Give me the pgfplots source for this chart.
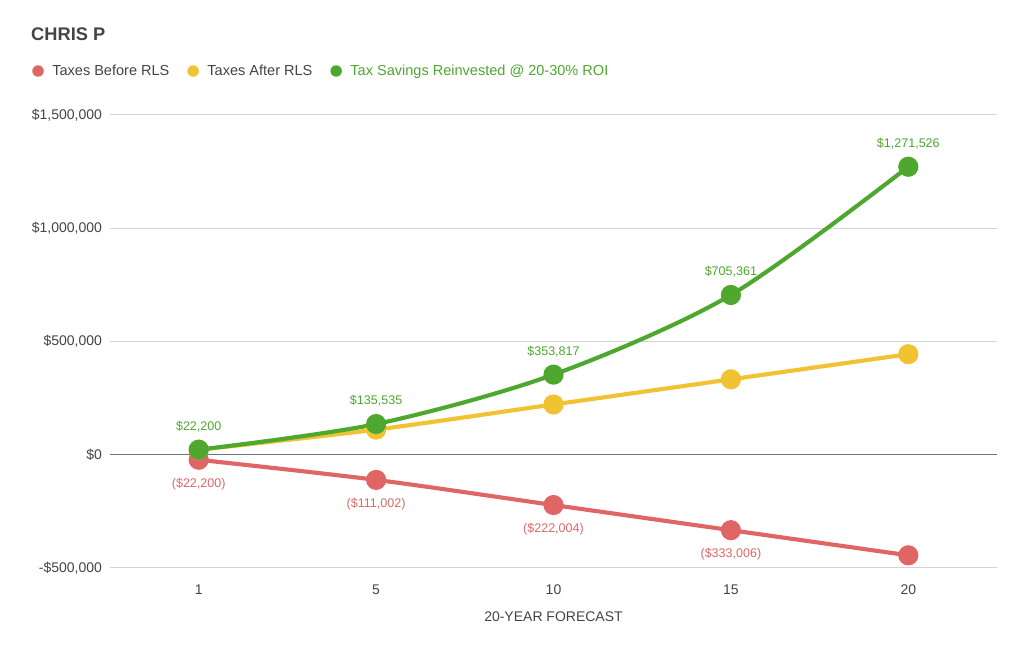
\documentclass[border=0pt]{standalone}
\usepackage{pgfplots}
\pgfplotsset{compat=1.18}
\usepackage{fontspec}
\setmainfont{Liberation Sans}
\definecolor{cred}{HTML}{E06666}
\definecolor{cyel}{HTML}{F1C232}
\definecolor{cgrn}{HTML}{4EA72E}
\definecolor{ctxt}{HTML}{444444}
\begin{document}
\begin{tikzpicture}
\path[use as bounding box] (0pt,0pt) rectangle (768pt,492pt);
\begin{axis}[
  at={(82.5pt,66pt)}, anchor=south west,
  scale only axis, width=665.25pt, height=339.75pt,
  xmin=-0.5, xmax=4.5, ymin=-500000, ymax=1500000,
  xtick={0,1,2,3,4}, xticklabels={1,5,10,15,20},
  ytick={-500000,500000,1000000,1500000},
  yticklabels={{-\$500,000},{\$500,000},{\$1,000,000},{\$1,500,000}},
  extra y ticks={0}, extra y tick labels={{\$0}},
  extra y tick style={ymajorgrids=true, major grid style={color=black!55, line width=0.9pt}},
  ymajorgrids, major grid style={color=black!17, line width=0.75pt},
  axis line style={draw=none}, major tick length=0pt,
  tick label style={font=\fontsize{10.5}{12}\selectfont, text=ctxt},
  xticklabel style={yshift=-9pt},
  yticklabel style={xshift=-2.5pt},
  scaled y ticks=false,
  clip=false,
  xlabel={20-YEAR FORECAST},
  xlabel style={at={(axis description cs:0.5,0)}, anchor=center, yshift=-36.75pt, font=\fontsize{10.5}{12}\selectfont, text=ctxt},
  title={CHRIS P},
  title style={at={(axis description cs:-0.0891,1.1611)}, anchor=west, inner sep=0pt, font=\fontsize{13.7}{16}\selectfont\bfseries, text=ctxt},
  legend columns=-1,
  legend style={at={(axis description cs:-0.0879,1.0971)}, anchor=west, draw=none, fill=none, inner sep=0pt,
    font=\fontsize{10.9}{12}\selectfont, text=ctxt,
    /tikz/every even column/.append style={column sep=11.5pt}},
  legend image code/.code={\fill[draw=none] (4.3pt,0pt) circle (4.3pt); \path[draw=none,fill=none] (0pt,0pt) -- (13pt,0pt);},
  every axis plot/.append style={line width=3.1pt, smooth, mark=*, mark size=6pt},
]
\addplot[color=cred, mark options={draw=none, fill=cred},
  point meta=explicit symbolic, nodes near coords,
  nodes near coords style={anchor=center, yshift=-18pt, font=\fontsize{9.4}{11}\selectfont, text=cred}]
  coordinates {(0,-22200) [(\$22,200)] (1,-111002) [(\$111,002)] (2,-222004) [(\$222,004)] (3,-333006) [(\$333,006)] (4,-444008) []};
\addlegendentry{Taxes Before RLS}
\addplot[color=cyel, mark options={draw=none, fill=cyel}]
  coordinates {(0,22200) (1,111002) (2,222004) (3,333006) (4,444008)};
\addlegendentry{Taxes After RLS}
\addplot[color=cgrn, mark options={draw=none, fill=cgrn},
  point meta=explicit symbolic, nodes near coords,
  nodes near coords style={anchor=center, yshift=17.25pt, font=\fontsize{9.4}{11}\selectfont, text=cgrn}]
  coordinates {(0,22200) [\$22,200] (1,135535) [\$135,535] (2,353817) [\$353,817] (3,705361) [\$705,361] (4,1271526) [\$1,271,526]};
\addlegendentry{\textcolor{cgrn}{Tax Savings Reinvested @ 20-30\% ROI}}
\end{axis}
\end{tikzpicture}
\end{document}
